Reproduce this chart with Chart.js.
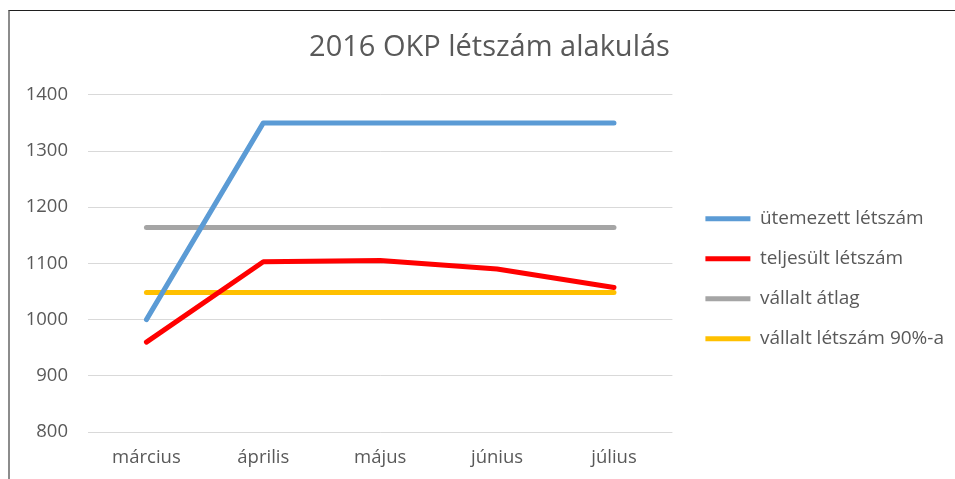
<!DOCTYPE html>
<html>
<head>
<meta charset="utf-8">
<script src="https://cdn.jsdelivr.net/npm/chart.js@4.4.1/dist/chart.umd.min.js"></script>
<style>
    html, body { margin: 0; padding: 0; background: #fff; }
    #wrap { position: relative; width: 955px; height: 479px; overflow: hidden; }
    #frame { position: absolute; left: 8px; top: 10px; width: 960px; height: 480px;
             border-top: 1px solid #1f1f1f; border-left: 2px solid #8c8c8c; }
    canvas { position: absolute; left: 0; top: 0; }
</style>
</head>
<body>
<div id="wrap">
    <canvas id="chart" width="955" height="479"></canvas>
    <div id="frame"></div>
</div>
<script>
// chart data
const months = ['március', 'április', 'május', 'június', 'július'];
const utemezett = [1000, 1350, 1350, 1350, 1350];
const teljesult = [960, 1103, 1105, 1090, 1057];
const atlag = [1164, 1164, 1164, 1164, 1164];
const letszam90 = [1048, 1048, 1048, 1048, 1048];
const yTicks = [800, 900, 1000, 1100, 1200, 1300, 1400];

const fontFamily = '"Open Sans", "Noto Sans", sans-serif';
const textColor = '#595959';

function line(label, data, color) {
    return {
        label: label,
        data: data,
        borderColor: color,
        backgroundColor: color,
        borderWidth: 5,
        borderCapStyle: 'round',
        borderJoinStyle: 'round',
        pointRadius: 0,
        pointHoverRadius: 0,
        tension: 0,
        fill: false
    };
}

const ctx = document.getElementById('chart').getContext('2d');
const myChart = new Chart(ctx, {
    type: 'line',
    data: {
        labels: months,
        datasets: [
            line('ütemezett létszám', utemezett, '#5B9BD5'),
            line('teljesült létszám', teljesult, '#FF0000'),
            line('vállalt átlag', atlag, '#A5A5A5'),
            line('vállalt létszám 90%-a', letszam90, '#FFC000')
        ]
    },
    options: {
        responsive: false,
        animation: false,
        layout: {
            padding: { left: 25, right: 1, top: 30, bottom: 0 }
        },
        scales: {
            y: {
                min: yTicks[0],
                max: yTicks[yTicks.length - 1],
                afterBuildTicks: function(axis) {
                    axis.ticks = yTicks.map(v => ({ value: v }));
                },
                border: { display: false },
                grid: { color: '#D9D9D9', lineWidth: 1, drawTicks: false },
                ticks: {
                    color: textColor,
                    padding: 20,
                    font: { family: fontFamily, size: 18.5 },
                    callback: function(value) { return String(value); }
                },
                afterFit: function(axis) { axis.width = 63; }
            },
            // empty axis, only keeps a gap between the plot and the legend
            gap: {
                type: 'linear',
                position: 'right',
                display: true,
                border: { display: false },
                grid: { display: false, drawTicks: false },
                ticks: { display: false },
                afterFit: function(axis) { axis.width = 12; }
            },
            x: {
                offset: true,
                border: { display: false },
                grid: { display: false, drawTicks: false },
                ticks: {
                    color: textColor,
                    padding: 15,
                    font: { family: fontFamily, size: 18.5 }
                },
                afterFit: function(axis) { axis.height = 47; }
            }
        },
        plugins: {
            title: {
                display: true,
                text: '2016 OKP létszám alakulás',
                color: textColor,
                font: { family: fontFamily, size: 29, weight: 'normal' },
                padding: { top: 0, bottom: 30 }
            },
            legend: {
                display: true,
                position: 'right',
                maxWidth: 320,
                title: { display: true, text: '', padding: { top: 17, bottom: 17 } },
                labels: {
                    usePointStyle: true,
                    pointStyle: 'line',
                    pointStyleWidth: 45,
                    boxHeight: 18,
                    padding: 21,
                    color: textColor,
                    font: { family: fontFamily, size: 19 }
                }
            },
            tooltip: { enabled: false }
        }
    }
});
</script>
</body>
</html>
